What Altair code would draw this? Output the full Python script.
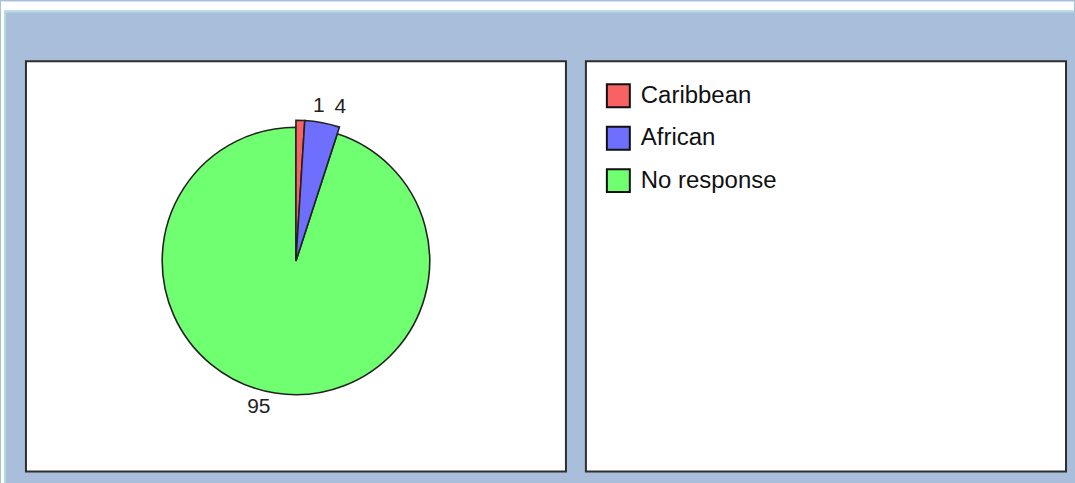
import altair as alt
import pandas as pd

categories = ["Caribbean", "African", "No response"]
values = [1, 4, 95]
colors = ["#F86262", "#6F6FFF", "#70FF70"]

df = pd.DataFrame({"category": categories, "value": values})

color = alt.Color("category:N", scale=alt.Scale(domain=categories, range=colors), legend=None)
theta = alt.Theta("value:Q", stack=True)
order = alt.Order("idx:Q")
cx, cy = 270.5, 200

base = alt.Chart(df).transform_window(idx="row_number()")

# decorations of the window frame (top white strip and light line)
deco_df = pd.DataFrame({"k": [0]})
deco = alt.Chart(deco_df)
top_white = deco.mark_rect(color="white").encode(
    x=alt.value(-25), x2=alt.value(1050), y=alt.value(-60), y2=alt.value(-51))
top_line = deco.mark_rect(color="#B3DCE3").encode(
    x=alt.value(-21), x2=alt.value(1050), y=alt.value(-51), y2=alt.value(-49))
left_white = deco.mark_rect(color="white").encode(
    x=alt.value(-25), x2=alt.value(-22), y=alt.value(-60), y2=alt.value(423))
left_line = deco.mark_rect(color="#B3DCE3").encode(
    x=alt.value(-22), x2=alt.value(-20), y=alt.value(-51), y2=alt.value(423))

arcs_main = base.mark_arc(outerRadius=134, stroke="#222222", strokeWidth=1.6).encode(
    theta=theta, color=color, order=order, x=alt.value(cx), y=alt.value(cy))

arcs_small = base.mark_arc(outerRadius=141, stroke="#222222", strokeWidth=1.6).encode(
    theta=theta, color=color, order=order, x=alt.value(cx), y=alt.value(cy),
    opacity=alt.condition("datum.category != 'No response'", alt.value(1), alt.value(0)))

def label(cat, r, dx):
    return base.mark_text(radius=r, dx=dx, fontSize=21, font="Liberation Sans",
                          color="#222222", align="center", baseline="middle").encode(
        theta=theta, order=order, x=alt.value(cx), y=alt.value(cy),
        text=alt.condition(f"datum.category == '{cat}'", alt.Text("value:Q"), alt.value("")))

pie = alt.layer(
    top_white, top_line, left_white, left_line,
    arcs_main, arcs_small,
    label("Caribbean", 155, 18),
    label("African", 157, 15),
    label("No response", 148, -14),
).properties(width=541, height=411)

ypos = alt.Y("category:N", axis=None,
             scale=alt.Scale(type="point", domain=categories, range=[34.5, 119.5], padding=0))

swatches = alt.Chart(df).mark_square(size=529, filled=True, stroke="#111111", strokeWidth=2, opacity=1).encode(
    x=alt.value(32.5), y=ypos, color=color)
texts = alt.Chart(df).mark_text(align="left", baseline="middle", fontSize=24,
                                font="Liberation Sans", color="#111111").encode(
    x=alt.value(55), y=ypos, text="category:N")

legend_panel = alt.layer(swatches, texts).properties(width=481, height=411)

chart = alt.hconcat(pie, legend_panel, spacing=20, bounds="flush").properties(
    background="#A9BEDB",
    padding={"left": 0, "top": 0, "right": 0, "bottom": 0},
).configure_view(stroke="#2e2e2e", strokeWidth=2, fill="white")

chart.save("out.html", embed_options={"renderer": "svg", "actions": False})
